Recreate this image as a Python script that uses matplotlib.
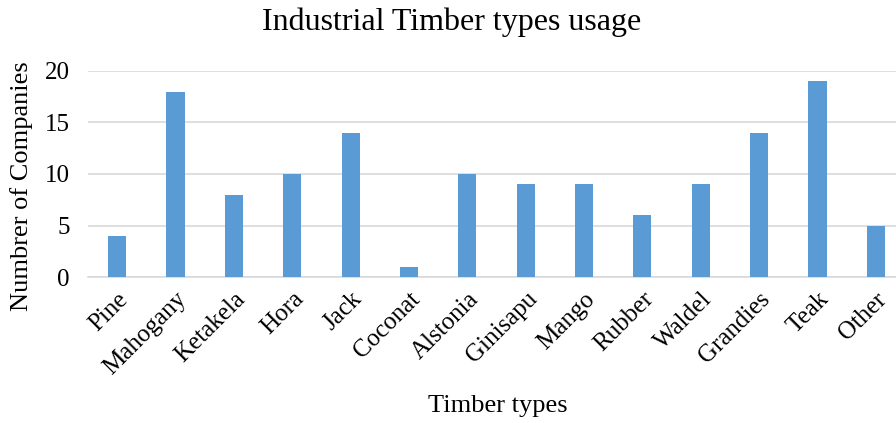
import matplotlib.pyplot as plt
import numpy as np

timber_types = ["Pine", "Mahogany", "Ketakela", "Hora", "Jack", "Coconat", "Alstonia",
                "Ginisapu", "Mango", "Rubber", "Waldel", "Grandies", "Teak", "Other"]
companies = [4, 18, 8, 10, 14, 1, 10, 9, 9, 6, 9, 14, 19, 5]

plt.rcParams['font.family'] = ['Liberation Serif', 'DejaVu Serif']

W, H = 896, 423
fig = plt.figure(figsize=(W / 100, H / 100), dpi=100)
# plot area runs a little past the right edge, as in the original
ax = fig.add_axes([88 / W, 146 / H, (905 - 88) / W, 206 / H])

x = np.arange(len(timber_types))
ax.bar(x, companies, width=0.31, color="#5b9bd5", zorder=3)

ax.set_xlim(-0.5, len(timber_types) - 0.5)
ax.set_ylim(0, 20)
ax.set_yticks([0, 5, 10, 15, 20])
ax.yaxis.grid(True, color="#d9d9d9", linewidth=1.2, zorder=0)
for s in ["top", "right", "left"]:
    ax.spines[s].set_visible(False)
ax.spines["bottom"].set_color("#d9d9d9")
ax.spines["bottom"].set_linewidth(1.2)
ax.tick_params(axis="both", length=0, labelsize=18)
ax.tick_params(axis="y", pad=13)
ax.set_xticks(x)
ax.set_xticklabels(timber_types, rotation=45, ha="right", rotation_mode="anchor")
ax.tick_params(axis="x", pad=8)

fig.text(452 / W, 1 - 22 / H, "Industrial Timber types usage", ha="center", va="center", fontsize=23)
fig.text(498 / W, 1 - 406 / H, "Timber types", ha="center", va="center", fontsize=19)
fig.text(22 / W, 1 - 186 / H, "Numbrer of Companies", ha="center", va="center",
         rotation=90, fontsize=19)

fig.savefig("out.png", dpi=100)
